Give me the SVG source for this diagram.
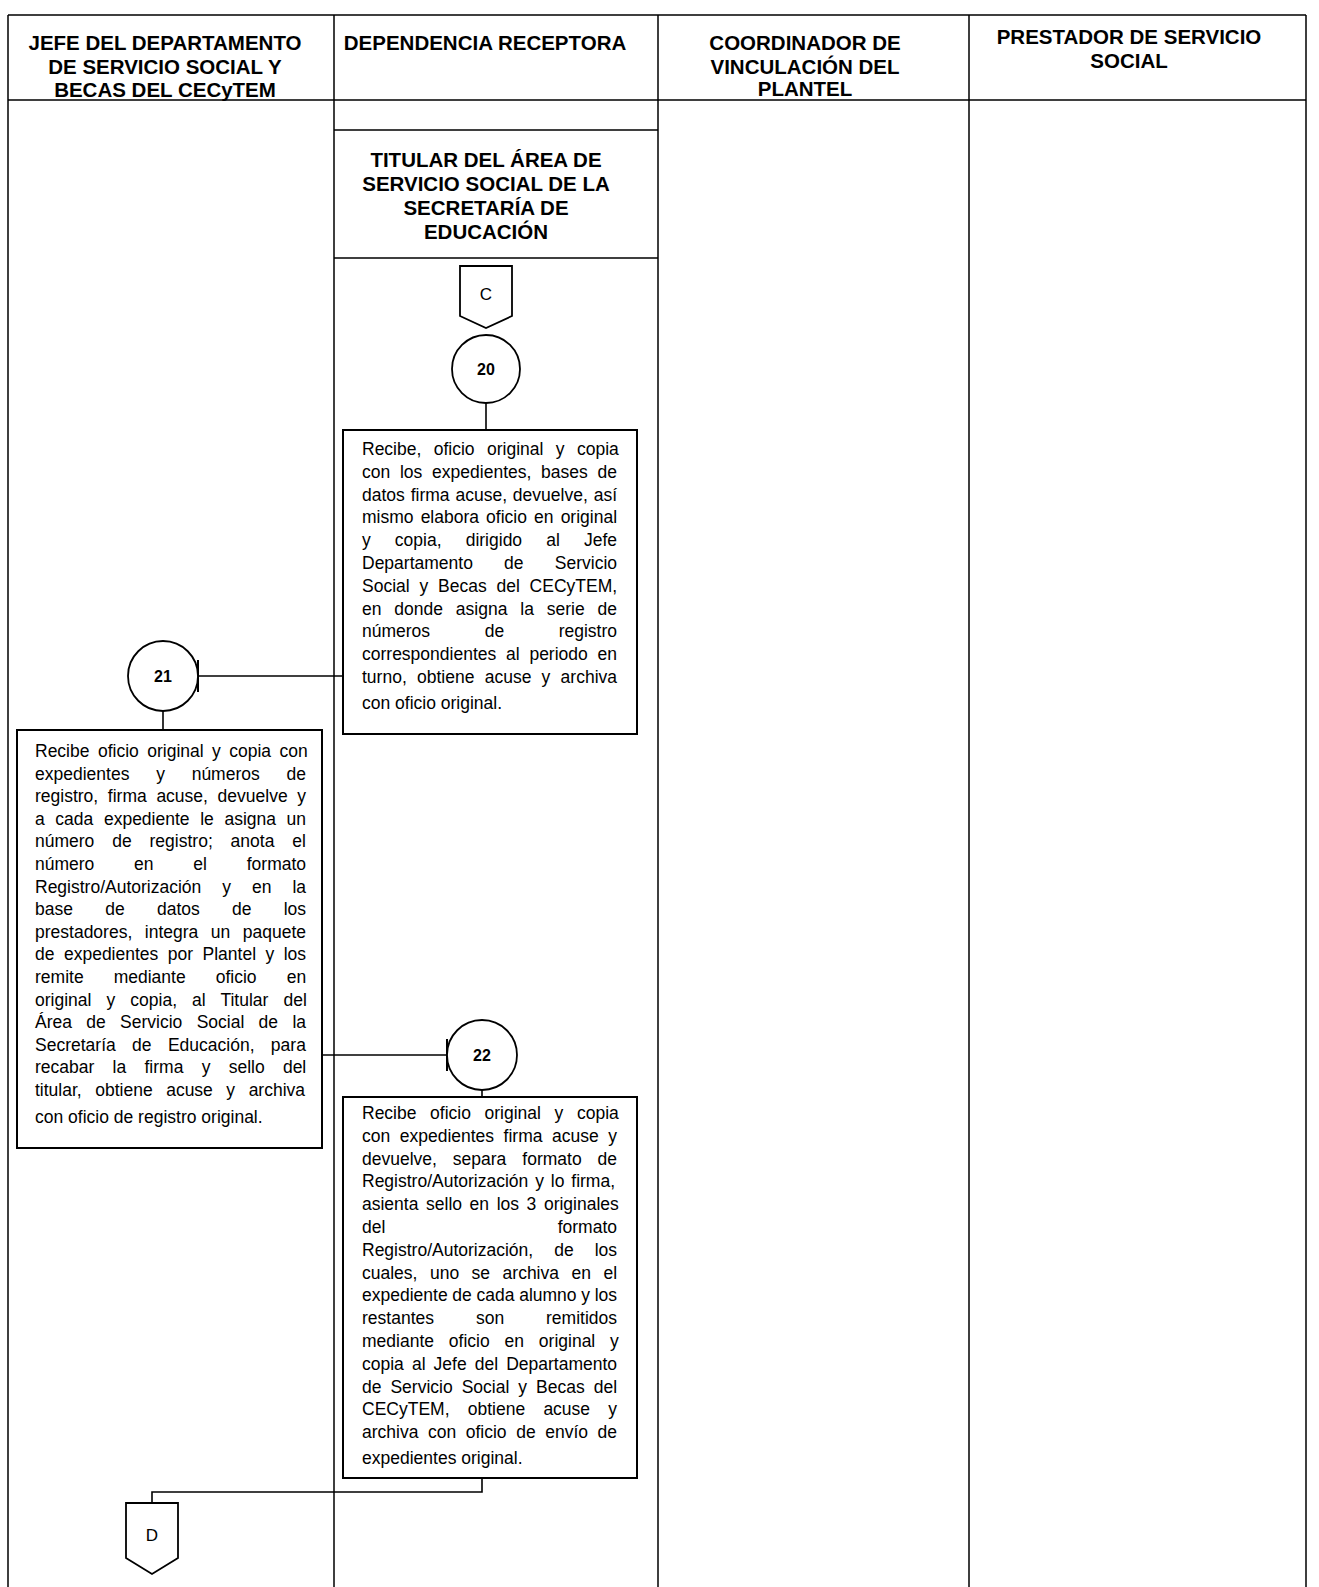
<svg xmlns="http://www.w3.org/2000/svg" width="1319" height="1587" viewBox="0 0 1319 1587">
<style>
.bg{fill:#ffffff}
.frame{stroke:#000;stroke-width:1.5;fill:none}
.box{stroke:#000;stroke-width:2;fill:#fff}
.circ{stroke:#000;stroke-width:1.8;fill:#fff}
.conn{stroke:#000;stroke-width:1.6;fill:none}
.hd{font-family:"Liberation Sans",Arial,sans-serif;font-weight:bold;font-size:20.5px;fill:#000;text-anchor:middle}
.tx{font-family:"Liberation Sans",Arial,sans-serif;font-size:17.5px;fill:#000}
.end{text-anchor:end}
.num{font-family:"Liberation Sans",Arial,sans-serif;font-weight:bold;font-size:16px;fill:#000;text-anchor:middle}
.lbl{font-family:"Liberation Sans",Arial,sans-serif;font-size:17px;fill:#000;text-anchor:middle}
</style>
<defs>
<marker id="tee" markerUnits="userSpaceOnUse" viewBox="0 0 4 32" refX="2" refY="16" markerWidth="4" markerHeight="32" orient="auto">
<path d="M2,0 L2,32" stroke="#000" stroke-width="2"/>
</marker>
</defs>
<rect class="bg" x="0" y="0" width="1319" height="1587"/>

<g id="lanes">
<path class="frame" d="M8,15 H1306 M8,100 H1306 M8,15 V1587 M334,15 V1587 M658,15 V1587 M969,15 V1587 M1306,15 V1587 M334,130 H658 M334,258 H658"/>
<text class="hd" x="165" y="50">JEFE DEL DEPARTAMENTO</text>
<text class="hd" x="165" y="74">DE SERVICIO SOCIAL Y</text>
<text class="hd" x="165" y="97">BECAS DEL CECyTEM</text>
<text class="hd" x="485" y="50">DEPENDENCIA RECEPTORA</text>
<text class="hd" x="805" y="50">COORDINADOR DE</text>
<text class="hd" x="805" y="74">VINCULACIÓN DEL</text>
<text class="hd" x="805" y="96">PLANTEL</text>
<text class="hd" x="1129" y="44">PRESTADOR DE SERVICIO</text>
<text class="hd" x="1129" y="68">SOCIAL</text>
<text class="hd" x="486" y="167">TITULAR DEL ÁREA DE</text>
<text class="hd" x="486" y="191">SERVICIO SOCIAL DE LA</text>
<text class="hd" x="486" y="215">SECRETARÍA DE</text>
<text class="hd" x="486" y="239">EDUCACIÓN</text>
</g>

<g id="connectors">
<path class="conn" d="M486,403 V430"/>
<path class="conn" d="M343,676 H198" marker-end="url(#tee)"/>
<path class="conn" d="M163,711 V730"/>
<path class="conn" d="M322,1055 H447" marker-end="url(#tee)"/>
<path class="conn" d="M482,1090 V1097"/>
<path class="conn" d="M482,1478 V1492 H152 V1503"/>
</g>

<g id="offpage-C">
<path class="box" style="stroke-width:1.8" d="M460,266 H512 V316 L486,328 L460,316 Z"/>
<text class="lbl" x="486" y="300">C</text>
</g>

<g id="step-20">
<circle class="circ" cx="486" cy="369" r="34"/>
<text class="num" x="486" y="375">20</text>
</g>

<g id="box-20">
<rect class="box" x="343" y="430" width="294" height="304"/>
<text class="tx" x="362" y="455" style="word-spacing:7.53px">Recibe, oficio original y copia</text>
<text class="tx" x="362" y="477.8" style="word-spacing:4.9px">con los expedientes, bases de</text>
<text class="tx" x="362" y="500.6" style="word-spacing:1.01px">datos firma acuse, devuelve, así</text>
<text class="tx" x="362" y="523.4" style="word-spacing:2.24px">mismo elabora oficio en original</text>
<text class="tx" x="362" y="546.2" style="word-spacing:19.25px">y copia, dirigido al Jefe</text>
<text class="tx" x="362" y="569" style="word-spacing:26.35px">Departamento de Servicio</text>
<text class="tx" x="362" y="591.8" style="word-spacing:4.93px">Social y Becas del CECyTEM,</text>
<text class="tx" x="362" y="614.6" style="word-spacing:8px">en donde asigna la serie de</text>
<text class="tx" x="362" y="637.4" style="word-spacing:49.7px">números de registro</text>
<text class="tx" x="362" y="660.2" style="word-spacing:4.9px">correspondientes al periodo en</text>
<text class="tx" x="362" y="683" style="word-spacing:5.39px">turno, obtiene acuse y archiva</text>
<text class="tx" x="362" y="709">con oficio original.</text>
</g>

<g id="step-21">
<circle class="circ" cx="163" cy="676" r="35"/>
<text class="num" x="163" y="682">21</text>
</g>

<g id="box-21">
<rect class="box" x="17" y="730" width="305" height="418"/>
<text class="tx" x="35" y="757" style="word-spacing:3.58px">Recibe oficio original y copia con</text>
<text class="tx" x="35" y="779.6" style="word-spacing:21.9px">expedientes y números de</text>
<text class="tx" x="35" y="802.2" style="word-spacing:4.78px">registro, firma acuse, devuelve y</text>
<text class="tx" x="35" y="824.8" style="word-spacing:5.76px">a cada expediente le asigna un</text>
<text class="tx" x="35" y="847.4" style="word-spacing:13px">número de registro; anota el</text>
<text class="tx" x="35" y="870" style="word-spacing:34.9px">número en el formato</text>
<text class="tx" x="35" y="892.6" style="word-spacing:16.1px">Registro/Autorización y en la</text>
<text class="tx" x="35" y="915.2" style="word-spacing:27.4px">base de datos de los</text>
<text class="tx" x="35" y="937.8" style="word-spacing:7.64px">prestadores, integra un paquete</text>
<text class="tx" x="35" y="960.4" style="word-spacing:4.6px">de expedientes por Plantel y los</text>
<text class="tx" x="35" y="983" style="word-spacing:25.2px">remite mediante oficio en</text>
<text class="tx" x="35" y="1005.6" style="word-spacing:10.2px">original y copia, al Titular del</text>
<text class="tx" x="35" y="1028.2" style="word-spacing:9.46px">Área de Servicio Social de la</text>
<text class="tx" x="35" y="1050.8" style="word-spacing:11.5px">Secretaría de Educación, para</text>
<text class="tx" x="35" y="1073.4" style="word-spacing:13.4px">recabar la firma y sello del</text>
<text class="tx" x="35" y="1096" style="word-spacing:8.66px">titular, obtiene acuse y archiva</text>
<text class="tx" x="35" y="1123">con oficio de registro original.</text>
</g>

<g id="step-22">
<circle class="circ" cx="482" cy="1055" r="35"/>
<text class="num" x="482" y="1061">22</text>
</g>

<g id="box-22">
<rect class="box" x="343" y="1097" width="294" height="381"/>
<text class="tx" x="362" y="1119" style="word-spacing:8.75px">Recibe oficio original y copia</text>
<text class="tx" x="362" y="1141.8" style="word-spacing:4.65px">con expedientes firma acuse y</text>
<text class="tx" x="362" y="1164.6" style="word-spacing:11.07px">devuelve, separa formato de</text>
<text class="tx" x="362" y="1187.4" style="word-spacing:2px">Registro/Autorización y lo firma,</text>
<text class="tx" x="362" y="1210.2" style="word-spacing:2.72px">asienta sello en los 3 originales</text>
<text class="tx" x="362" y="1233">del</text>
<text class="tx end" x="617" y="1233">formato</text>
<text class="tx" x="362" y="1255.8" style="word-spacing:16.15px">Registro/Autorización, de los</text>
<text class="tx" x="362" y="1278.6" style="word-spacing:7.62px">cuales, uno se archiva en el</text>
<text class="tx" x="362" y="1301.4" style="word-spacing:-0.16px">expediente de cada alumno y los</text>
<text class="tx" x="362" y="1324.2" style="word-spacing:37.05px">restantes son remitidos</text>
<text class="tx" x="362" y="1347" style="word-spacing:9.98px">mediante oficio en original y</text>
<text class="tx" x="362" y="1369.8" style="word-spacing:3.2px">copia al Jefe del Departamento</text>
<text class="tx" x="362" y="1392.6" style="word-spacing:4.12px">de Servicio Social y Becas del</text>
<text class="tx" x="362" y="1415.4" style="word-spacing:13.37px">CECyTEM, obtiene acuse y</text>
<text class="tx" x="362" y="1438.2" style="word-spacing:4.7px">archiva con oficio de envío de</text>
<text class="tx" x="362" y="1464">expedientes original.</text>
</g>

<g id="offpage-D">
<path class="box" style="stroke-width:1.8" d="M126,1503 H178 V1558 L152,1574 L126,1558 Z"/>
<text class="lbl" x="152" y="1541">D</text>
</g>
</svg>
